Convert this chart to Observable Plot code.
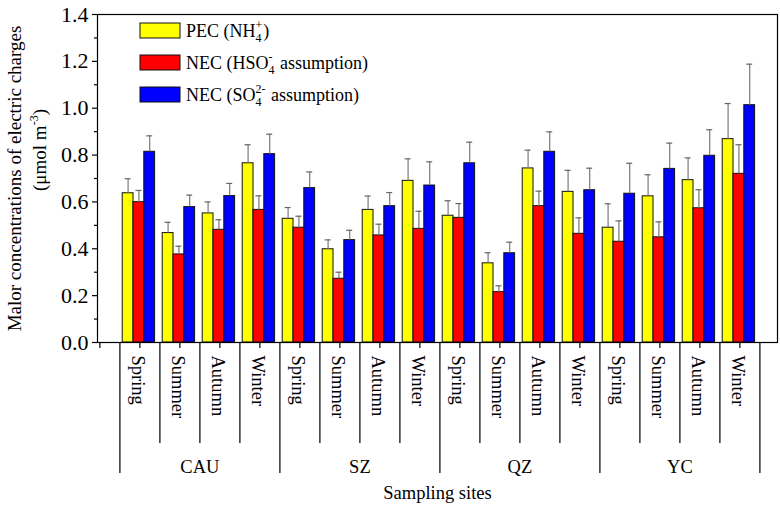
<!DOCTYPE html>
<html><head><meta charset="utf-8">
<script src="https://cdn.jsdelivr.net/npm/d3@7"></script>
<script src="https://cdn.jsdelivr.net/npm/@observablehq/plot@0.6"></script>
<style>
body{margin:0;background:#fff;}
#chart svg, #chart svg text{font-family:'Liberation Serif','Times New Roman',serif;}
</style>
</head><body><div id="chart"></div>
<script>
// ---- data ----
const sites = ["CAU", "SZ", "QZ", "YC"];
const seasons = ["Spring", "Summer", "Autumn", "Winter"];
// PEC (NH4+)
const pec    = [0.637, 0.467, 0.551, 0.765, 0.528, 0.398, 0.566, 0.690, 0.541, 0.338, 0.743, 0.643, 0.490, 0.624, 0.693, 0.868];
const pecErr = [0.062, 0.046, 0.049, 0.079, 0.048, 0.040, 0.059, 0.094, 0.064, 0.045, 0.078, 0.092, 0.102, 0.092, 0.095, 0.152];
// NEC (HSO4- assumption)
const necHSO4    = [0.599, 0.376, 0.481, 0.566, 0.490, 0.272, 0.457, 0.485, 0.532, 0.215, 0.582, 0.464, 0.430, 0.449, 0.573, 0.720];
const necHSO4Err = [0.050, 0.035, 0.043, 0.060, 0.049, 0.028, 0.048, 0.075, 0.061, 0.027, 0.064, 0.068, 0.089, 0.066, 0.079, 0.124];
// NEC (SO4 2- assumption)
const necSO4    = [0.814, 0.578, 0.625, 0.804, 0.659, 0.437, 0.582, 0.670, 0.765, 0.381, 0.814, 0.650, 0.635, 0.741, 0.797, 1.013];
const necSO4Err = [0.068, 0.051, 0.054, 0.085, 0.069, 0.042, 0.058, 0.101, 0.090, 0.047, 0.085, 0.094, 0.130, 0.110, 0.111, 0.175];
const yMajorTicks = [0, 0.2, 0.4, 0.6, 0.8, 1.0, 1.2, 1.4];
const yMinorTicks = [0.1, 0.3, 0.5, 0.7, 0.9, 1.1, 1.3];
const yLabel1 = "Malor concentrations of electric charges";
const xLabel = "Sampling sites";

// ---- styles ----
const colors = ["#ffff00", "#ff0000", "#0000ff"];
const barOffsets = [-0.43, -0.16, 0.11];   // bar left edge relative to category centre (x units)
const barW = 0.27;
const capHalf = 0.075;
const FONT = "'Liberation Serif', 'Times New Roman', serif";

// ---- derived tables ----
const categories = sites.flatMap((site, si) => seasons.map((season, qi) => ({site, season, idx: si * 4 + qi + 1})));
const seriesVals = [[pec, pecErr], [necHSO4, necHSO4Err], [necSO4, necSO4Err]];
const seriesRecs = seriesVals.map(([v, e]) => categories.map((c, i) => ({...c, value: v[i], err: e[i]})));

const seasonBounds = d3.range(0.5, 16.6, 1).filter(b => (b - 0.5) % 4 !== 0);
const siteBounds = [0.5, 4.5, 8.5, 12.5, 16.5];
const catTicks = d3.range(0, 17);

const marks = [];
seriesRecs.forEach((recs, k) => {
  const off = barOffsets[k];
  marks.push(Plot.rectY(recs, {x1: d => d.idx + off, x2: d => d.idx + off + barW, y1: 0, y2: "value",
    fill: colors[k], stroke: "#111", strokeWidth: 1}));
});
seriesRecs.forEach((recs, k) => {
  const c = barOffsets[k] + barW / 2;
  marks.push(Plot.ruleX(recs, {x: d => d.idx + c, y1: "value", y2: d => d.value + d.err, stroke: "#7a7a7a", strokeWidth: 1.2}));
  marks.push(Plot.ruleY(recs, {y: d => d.value + d.err, x1: d => d.idx + c - capHalf, x2: d => d.idx + c + capHalf, stroke: "#666", strokeWidth: 1.2}));
});

const chart = Plot.plot({
  width: 780, height: 510,
  marginLeft: 97, marginRight: 3, marginTop: 14, marginBottom: 168,
  x: {domain: [-0.06, 16.94]},
  y: {domain: [0, 1.4]},
  style: {fontFamily: FONT, color: "black", background: "white"},
  marks: [
    ...marks,
    Plot.frame({stroke: "black", strokeWidth: 1.2}),
    Plot.axisY({ticks: yMajorTicks, tickSize: 5, tickPadding: 4, tickFormat: d3.format(".1f"), fontSize: 22, label: null, strokeWidth: 1.2}),
    Plot.axisY({ticks: yMinorTicks, tickSize: 3, tickFormat: () => "", label: null, strokeWidth: 1.2}),
    Plot.axisX({ticks: catTicks, tickSize: 6, tickFormat: () => "", label: null, strokeWidth: 1.2}),
    Plot.axisX({ticks: seasonBounds, tickSize: 101, tickFormat: () => "", label: null, strokeWidth: 1.2}),
    Plot.axisX({ticks: siteBounds, tickSize: 131, tickFormat: () => "", label: null, strokeWidth: 1.2}),
    Plot.text(categories, {x: "idx", y: 0, text: "season", rotate: 90, textAnchor: "start", lineAnchor: "middle", dy: 13, dx: -2, fontSize: 18.5, fill: "black"}),
    Plot.text(sites, {x: (d, i) => 2.5 + 4 * i, y: 0, text: d => d, dy: 125, fontSize: 18.5, fill: "black"}),
    Plot.text([xLabel], {frameAnchor: "bottom", text: d => d, dy: 156, fontSize: 18.5, fill: "black"}),
    Plot.text([yLabel1], {frameAnchor: "left", textAnchor: "middle", text: d => d, rotate: -90, dx: -83, fontSize: 19, fill: "black"})
  ]
});
document.getElementById("chart").appendChild(chart);

// ---- second y-label line with superscript, and legend (real SVG text) ----
const svg = d3.select(chart);
const yl2 = svg.append("text")
  .attr("transform", "translate(39,150) rotate(-90)")
  .attr("text-anchor", "middle").attr("dy", "0.35em")
  .style("font-family", FONT).style("font-size", "19px").attr("fill", "black");
yl2.append("tspan").text("(\u03bcmol m");
yl2.append("tspan").style("font-size", "12px").attr("dy", -8).text("-3");
yl2.append("tspan").attr("dy", 8).text(")");

const legendParts = [
  [["PEC (NH"], ["4", "+"], [")"]],
  [["NEC (HSO"], ["4", "-"], [" assumption)"]],
  [["NEC (SO"], ["4", "2-"], [" assumption)"]]
];
const lg = svg.append("g").attr("text-anchor", "start")
  .style("font-family", FONT).style("font-size", "18px").attr("fill", "black");
legendParts.forEach((parts, k) => {
  const y0 = 23 + 32 * k;
  lg.append("rect").attr("x", 140).attr("y", y0).attr("width", 40).attr("height", 15)
    .attr("fill", colors[k]).attr("stroke", "#111").attr("stroke-width", 1);
  const t = lg.append("text").attr("x", 186).attr("y", y0 + 14).attr("text-anchor", "start");
  t.append("tspan").text(parts[0][0]);
  const sub = t.append("tspan").style("font-size", "12px").attr("dy", 5).text(parts[1][0]);
  const subW = sub.node().getComputedTextLength();
  const sup = t.append("tspan").style("font-size", "12px").attr("dx", -subW).attr("dy", -13).text(parts[1][1]);
  const supW = sup.node().getComputedTextLength();
  t.append("tspan").attr("dx", Math.max(0, subW - supW) + 1).attr("dy", 8).text(parts[2][0]);
});
</script>
</body></html>
